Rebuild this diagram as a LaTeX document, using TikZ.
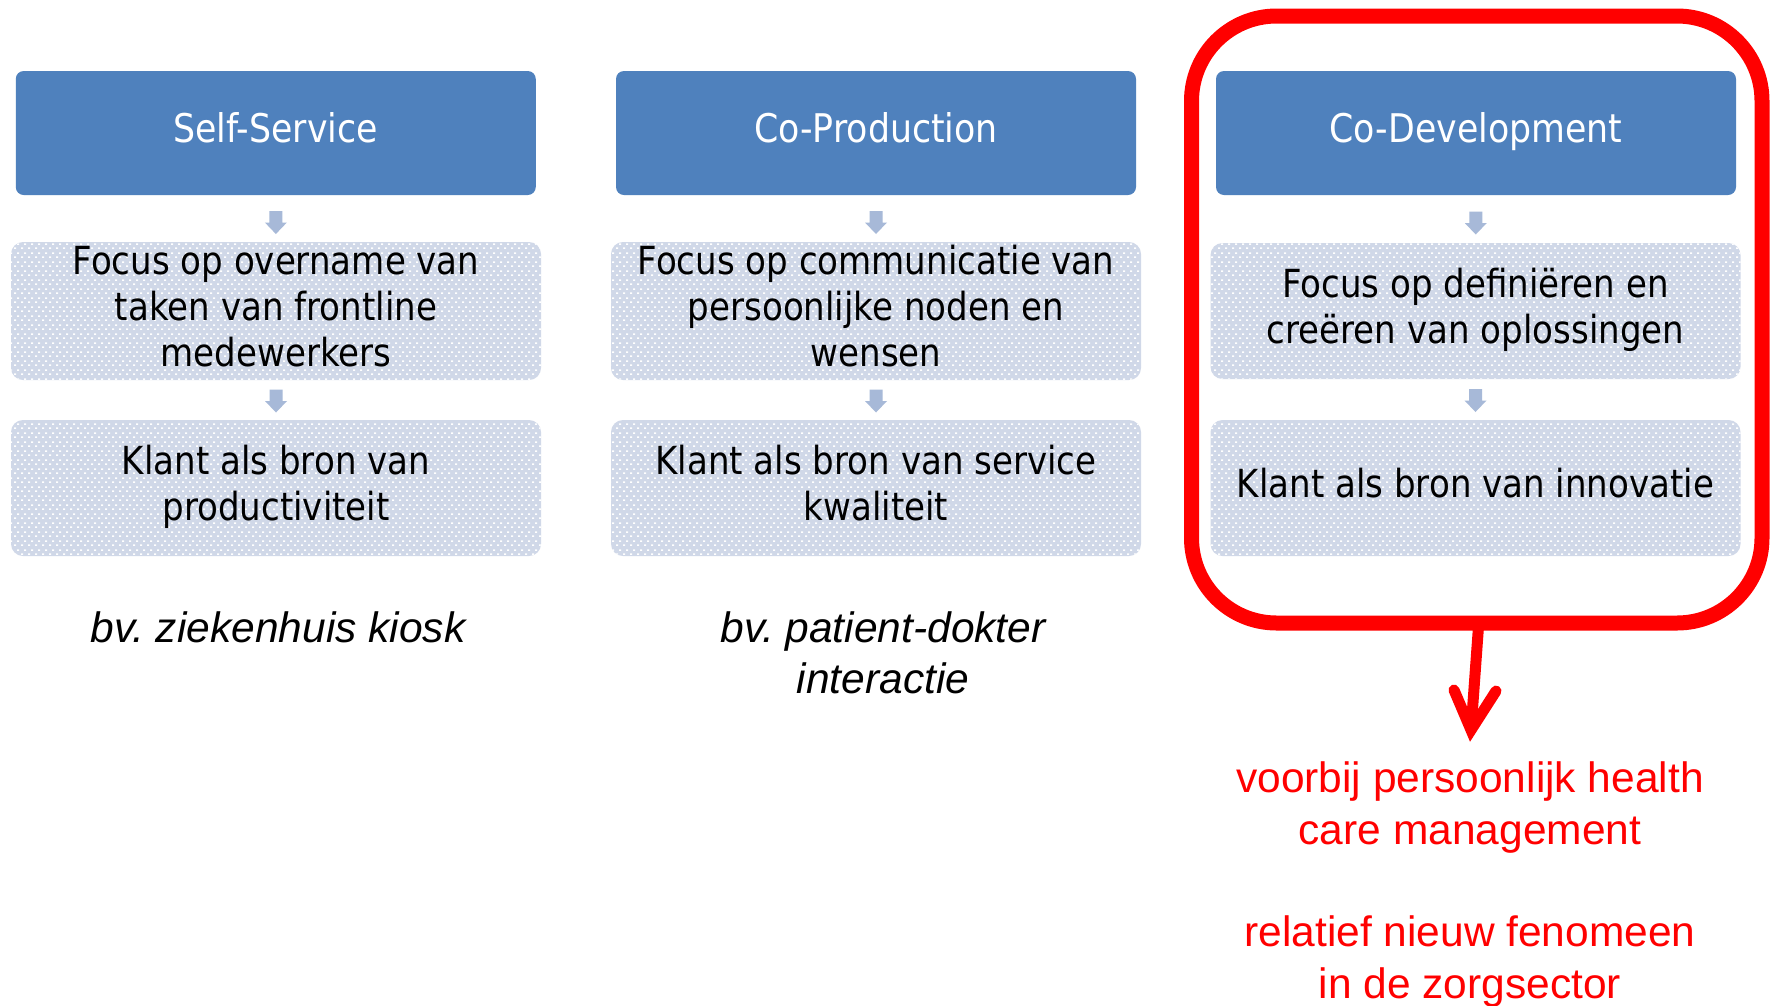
\documentclass[tikz,border=0pt]{standalone}
\usepackage{fontspec}
\usetikzlibrary{calc,patterns.meta}
\newfontfamily\boxfont[FakeStretch=0.88]{DejaVu Sans}
\newfontfamily\arialfont{Liberation Sans}
\definecolor{headblue}{HTML}{4F81BD}
\definecolor{boxfill}{HTML}{D0D8E8}
\definecolor{arrowcol}{HTML}{A7B9D8}
\definecolor{pptred}{HTML}{FF0000}
\pgfdeclarepattern{
  name=ppdots,
  type=uncolored,
  bottom left={\pgfqpoint{0pt}{0pt}},
  top right={\pgfqpoint{7pt}{9pt}},
  tile size={\pgfqpoint{7pt}{9pt}},
  code={
    \pgfpathrectangle{\pgfqpoint{0pt}{0pt}}{\pgfqpoint{2.4pt}{1.8pt}}
    \pgfpathrectangle{\pgfqpoint{3.5pt}{4.5pt}}{\pgfqpoint{2.4pt}{1.8pt}}
    \pgfusepath{fill}
  }
}
\tikzset{
  header/.style={fill=headblue, rounded corners=8, minimum width=520, minimum height=124,
    inner sep=0, text=white, align=center, font=\boxfont\fontsize{39.5}{46}\selectfont},
  fbox/.style={fill=boxfill, postaction={pattern=ppdots, pattern color=white},
    rounded corners=12, minimum width=530, minimum height=136, inner sep=0,
    align=center, font=\boxfont\fontsize{38.7}{46}\selectfont},
  example/.style={inner sep=0, align=center, font=\arialfont\itshape\fontsize{42.5}{51}\selectfont},
  remark/.style={inner sep=0, align=center, text=pptred, font=\arialfont\fontsize{42.5}{52}\selectfont},
  blockarr/.pic={\fill[arrowcol] (-6.5,-11.5) -- (6.5,-11.5) -- (6.5,0) -- (11,0) -- (0,11.5) -- (-11,0) -- (-6.5,0) -- cycle;}
}
\begin{document}
\frenchspacing
\begin{tikzpicture}[x=1pt,y=-1pt]
\useasboundingbox[fill=white] (0,0) rectangle (1772,1005);

% column 1
\node[header] (h1) at (275.75,133) {\strut Self-Service};
\node[fbox] (m1) at (276,311) {\strut Focus op overname van\\\strut taken van frontline\\\strut medewerkers};
\node[fbox] (b1) at (276,488) {\strut Klant als bron van\\\strut productiviteit};
% column 2
\node[header] (h2) at (876,133) {\strut Co-Production};
\node[fbox] (m2) at (876,311) {\strut Focus op communicatie van\\\strut persoonlijke noden en\\\strut wensen};
\node[fbox] (b2) at (876,488) {\strut Klant als bron van service\\\strut kwaliteit};
% column 3
\node[header] (h3) at (1476,133) {\strut Co-Development};
\node[fbox] (m3) at (1475.5,311) {\strut Focus op definiëren en\\\strut creëren van oplossingen};
\node[fbox] (b3) at (1475.5,488) {\strut Klant als bron van innovatie};

% small block arrows
\pic at ($(h1.south)!0.5!(m1.north)+(0,4)$) {blockarr};
\pic at ($(m1.south)!0.5!(b1.north)+(0,1)$) {blockarr};
\pic at ($(h2.south)!0.5!(m2.north)+(0,4)$) {blockarr};
\pic at ($(m2.south)!0.5!(b2.north)+(0,1)$) {blockarr};
\pic at ($(h3.south)!0.5!(m3.north)+(0,4)$) {blockarr};
\pic at ($(m3.south)!0.5!(b3.north)+(0,1)$) {blockarr};

% examples
\node[example] (e1) at (278,632) {\strut bv. ziekenhuis kiosk};
\node[example] (e2) at (883,657.5) {\strut bv. patient-dokter\\\strut interactie};

% red frame and arrow
\node[draw=pptred, line width=15, rounded corners=85, minimum width=570.5, minimum height=607,
  inner sep=0, outer sep=0] (frame) at (1476.75,319.5) {};
\coordinate (redvertex) at (1471,730);
\coordinate (barbL) at (1454,690);
\coordinate (barbR) at (1496,691);
\draw[pptred, line width=11] ([xshift=2pt]frame.south) -- (redvertex);
\draw[pptred, line width=11, line cap=round, line join=miter] (barbL) -- (redvertex) -- (barbR);

% remarks
\node[remark] (r1) at (1470,808) {\strut voorbij persoonlijk health\\\strut care management};
\node[remark] (r2) at (1470,962.5) {\strut relatief nieuw fenomeen\\\strut in de zorgsector};
\end{tikzpicture}
\end{document}
